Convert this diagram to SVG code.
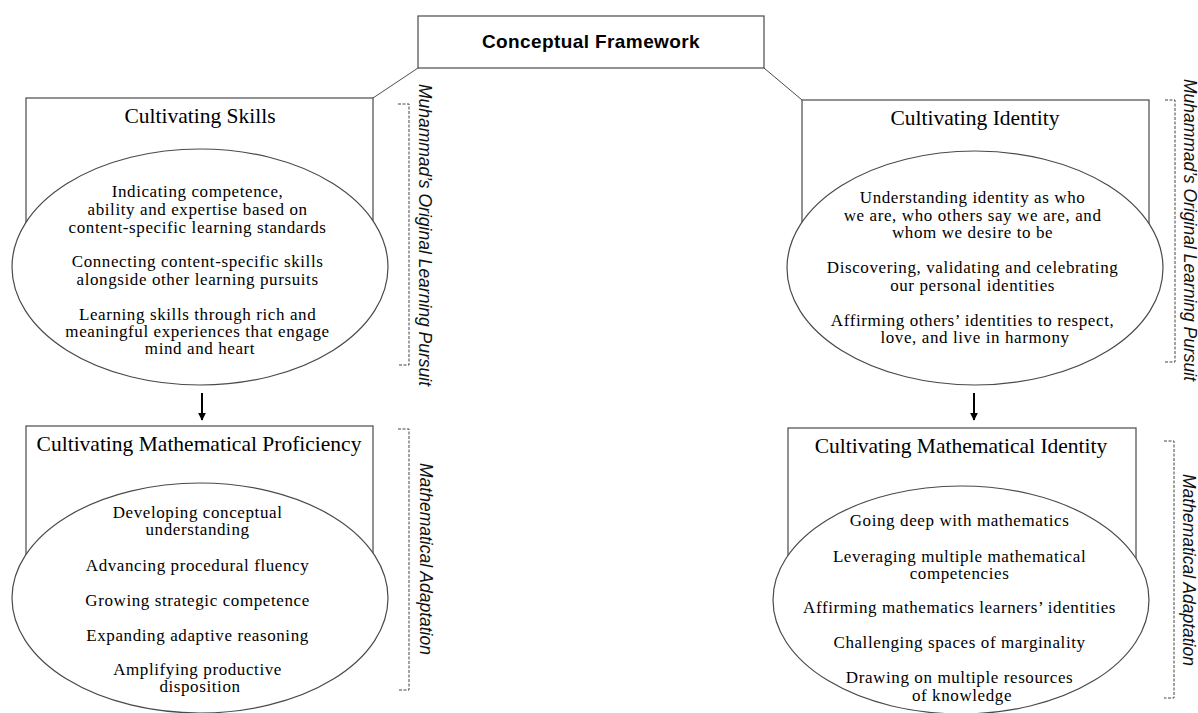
<svg xmlns="http://www.w3.org/2000/svg" width="1198" height="713" viewBox="0 0 1198 713">
  <style>
    .box { fill: #fff; stroke: #4a4a4a; stroke-width: 1.2; }
    .oval { fill: #fff; stroke: #4a4a4a; stroke-width: 1.2; }
    .title { font-family: "Liberation Serif", "Times New Roman", serif; font-size: 21.5px; fill: #000; text-anchor: middle; }
    .body { font-family: "Liberation Serif", "Times New Roman", serif; font-size: 17px; letter-spacing: 0.6px; fill: #000; text-anchor: middle; }
    .head { font-family: "Liberation Sans", Arial, sans-serif; font-size: 19px; letter-spacing: 0.4px; font-weight: bold; fill: #000; text-anchor: middle; }
    .side { font-family: "Liberation Sans", Arial, sans-serif; font-size: 17.5px; font-style: italic; fill: #111; text-anchor: middle; }
    .bracket { fill: none; stroke: #444; stroke-width: 1; stroke-dasharray: 3 1.5; }
    .link { fill: none; stroke: #4a4a4a; stroke-width: 1; }
    .arrow { fill: none; stroke: #000; stroke-width: 2; marker-end: url(#tip); }
  </style>
  <defs>
    <marker id="tip" viewBox="0 0 10 10" refX="9" refY="5" markerWidth="4" markerHeight="4" orient="auto" markerUnits="strokeWidth">
      <path d="M0,0 L10,5 L0,10 z" fill="#000"/>
    </marker>
  </defs>

  <rect width="1198" height="713" fill="#fff"/>

  <!-- connectors -->
  <g id="connectors">
    <line class="link" x1="418" y1="68" x2="373" y2="98"/>
    <line class="link" x1="764" y1="68" x2="802" y2="100"/>
    <line class="arrow" x1="202" y1="393" x2="202" y2="420"/>
    <line class="arrow" x1="974" y1="393" x2="974" y2="420"/>
  </g>

  <!-- root -->
  <g id="framework">
    <rect class="box" x="418" y="16" width="346" height="52"/>
    <text class="head" x="591" y="48">Conceptual Framework</text>
  </g>

  <!-- upper left -->
  <g id="skills">
    <rect class="box" x="26" y="98" width="347" height="170"/>
    <text class="title" x="200" y="123">Cultivating Skills</text>
    <ellipse class="oval" cx="200" cy="267" rx="188" ry="118"/>
    <text class="body">
      <tspan x="200" y="197">Indicating competence,</tspan>
      <tspan x="200" y="215">ability and expertise based on</tspan>
      <tspan x="200" y="233">content-specific learning standards</tspan>
      <tspan x="200" y="267">Connecting content-specific skills</tspan>
      <tspan x="200" y="285">alongside other learning pursuits</tspan>
      <tspan x="200" y="320">Learning skills through rich and</tspan>
      <tspan x="200" y="337">meaningful experiences that engage</tspan>
      <tspan x="200" y="354">mind and heart</tspan>
    </text>
  </g>

  <!-- upper right -->
  <g id="identity">
    <rect class="box" x="802" y="100" width="347" height="170"/>
    <text class="title" x="975" y="125">Cultivating Identity</text>
    <ellipse class="oval" cx="975" cy="268" rx="188" ry="117"/>
    <text class="body">
      <tspan x="975" y="203">Understanding identity as who</tspan>
      <tspan x="975" y="221">we are, who others say we are, and</tspan>
      <tspan x="975" y="238">whom we desire to be</tspan>
      <tspan x="975" y="273">Discovering, validating and celebrating</tspan>
      <tspan x="975" y="291">our personal identities</tspan>
      <tspan x="975" y="326">Affirming others’ identities to respect,</tspan>
      <tspan x="975" y="343">love, and live in harmony</tspan>
    </text>
  </g>

  <!-- lower left -->
  <g id="proficiency">
    <rect class="box" x="26" y="426" width="347" height="172"/>
    <text class="title" x="199" y="451">Cultivating Mathematical Proficiency</text>
    <ellipse class="oval" cx="200" cy="598" rx="188" ry="115"/>
    <text class="body">
      <tspan x="200" y="518">Developing conceptual</tspan>
      <tspan x="200" y="535">understanding</tspan>
      <tspan x="200" y="571">Advancing procedural fluency</tspan>
      <tspan x="200" y="606">Growing strategic competence</tspan>
      <tspan x="200" y="641">Expanding adaptive reasoning</tspan>
      <tspan x="200" y="675">Amplifying productive</tspan>
      <tspan x="200" y="692">disposition</tspan>
    </text>
  </g>

  <!-- lower right -->
  <g id="math-identity">
    <rect class="box" x="788" y="428" width="348" height="172"/>
    <text class="title" x="961" y="453">Cultivating Mathematical Identity</text>
    <ellipse class="oval" cx="961" cy="600" rx="188" ry="114"/>
    <text class="body">
      <tspan x="962" y="526">Going deep with mathematics</tspan>
      <tspan x="962" y="562">Leveraging multiple mathematical</tspan>
      <tspan x="962" y="579">competencies</tspan>
      <tspan x="962" y="613">Affirming mathematics learners’ identities</tspan>
      <tspan x="962" y="648">Challenging spaces of marginality</tspan>
      <tspan x="962" y="683">Drawing on multiple resources</tspan>
      <tspan x="962" y="701">of knowledge</tspan>
    </text>
  </g>

  <!-- side brackets with vertical labels -->
  <g id="label-pursuit-left">
    <path class="bracket" d="M398,104 H409 V365 H398"/>
    <text class="side" transform="translate(419,235) rotate(90)">Muhammad’s Original Learning Pursuit</text>
  </g>
  <g id="label-adaptation-left">
    <path class="bracket" d="M398,429 H409 V690 H398"/>
    <text class="side" transform="translate(420,559) rotate(90)">Mathematical Adaptation</text>
  </g>
  <g id="label-pursuit-right">
    <path class="bracket" d="M1165,100 H1175 V362 H1165"/>
    <text class="side" transform="translate(1184,230) rotate(90)">Muhammad’s Original Learning Pursuit</text>
  </g>
  <g id="label-adaptation-right">
    <path class="bracket" d="M1164,441 H1174 V698 H1164"/>
    <text class="side" transform="translate(1183,570) rotate(90)">Mathematical Adaptation</text>
  </g>
</svg>
